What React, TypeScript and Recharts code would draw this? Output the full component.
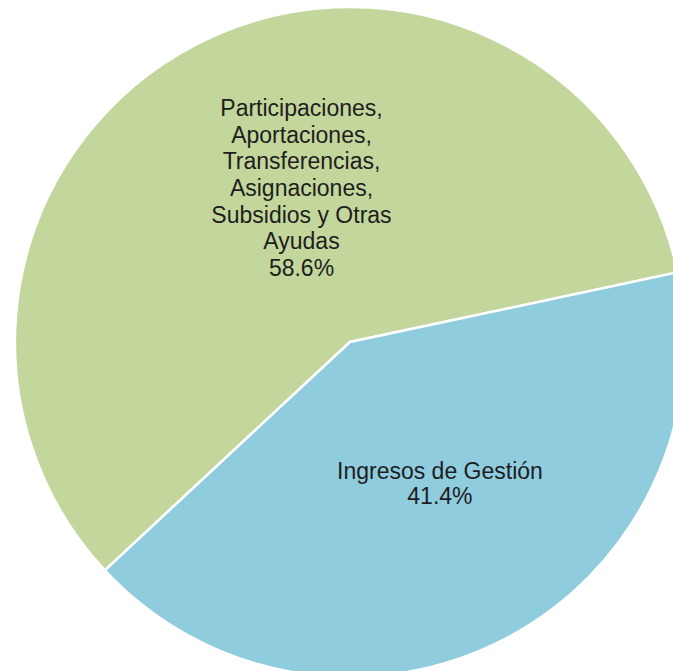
import React from "react";
import { PieChart, Pie, Cell } from "recharts";

const categories = [
  "Participaciones, Aportaciones, Transferencias, Asignaciones, Subsidios y Otras Ayudas",
  "Ingresos de Gestión",
];
const shares = [58.6, 41.4];
const percentLabels = ["58.6%", "41.4%"];
const colors = ["#C3D69B", "#8FCCDE"];

// label placement tweaks (style only)
const labelAngleNudge = [-10, 5];
const labelRadiusFrac = [0.482, 0.5];
const lineHeights = [26.6, 25.5];

const data = categories.map((name, i) => ({ name, value: shares[i] }));

const RAD = Math.PI / 180;

function wrap(text: string, maxChars: number): string[] {
  const words = text.split(" ");
  const lines: string[] = [];
  let cur = "";
  for (const w of words) {
    const next = cur ? cur + " " + w : w;
    if (next.length > maxChars && cur) {
      lines.push(cur);
      cur = w;
    } else {
      cur = next;
    }
  }
  if (cur) lines.push(cur);
  return lines;
}

const renderLabel = (props: any) => {
  const { cx, cy, midAngle, outerRadius, index } = props;
  const ang = (midAngle + labelAngleNudge[index]) * RAD;
  const r = outerRadius * labelRadiusFrac[index];
  const x = cx + r * Math.cos(ang);
  const y = cy - r * Math.sin(ang);
  const lines = [...wrap(categories[index], 19), percentLabels[index]];
  const lh = lineHeights[index];
  const startY = y - ((lines.length - 1) * lh) / 2;
  return (
    <text
      key={`lbl-${index}`}
      x={x}
      y={startY}
      textAnchor="middle"
      fill="#1E1E1E"
      fontFamily="'Liberation Sans', Arial, sans-serif"
      fontSize={23}
    >
      {lines.map((ln, i) => (
        <tspan key={i} x={x} y={startY + i * lh} dy="0.35em">
          {ln}
        </tspan>
      ))}
    </text>
  );
};

export default function App() {
  return (
    <div
      style={{
        position: "absolute",
        left: 0,
        top: 0,
        width: 673,
        height: 671,
        overflow: "hidden",
        background: "#fff",
      }}
    >
      <PieChart width={673} height={671} margin={{ top: 0, right: 0, bottom: 0, left: 0 }}>
        <Pie
          data={data}
          dataKey="value"
          nameKey="name"
          cx={350}
          cy={342}
          outerRadius={335}
          startAngle={12}
          endAngle={372}
          stroke="#FFFFFF"
          strokeWidth={2.5}
          label={renderLabel}
          labelLine={false}
          isAnimationActive={false}
        >
          {data.map((d, i) => (
            <Cell key={d.name} fill={colors[i]} />
          ))}
        </Pie>
      </PieChart>
    </div>
  );
}
